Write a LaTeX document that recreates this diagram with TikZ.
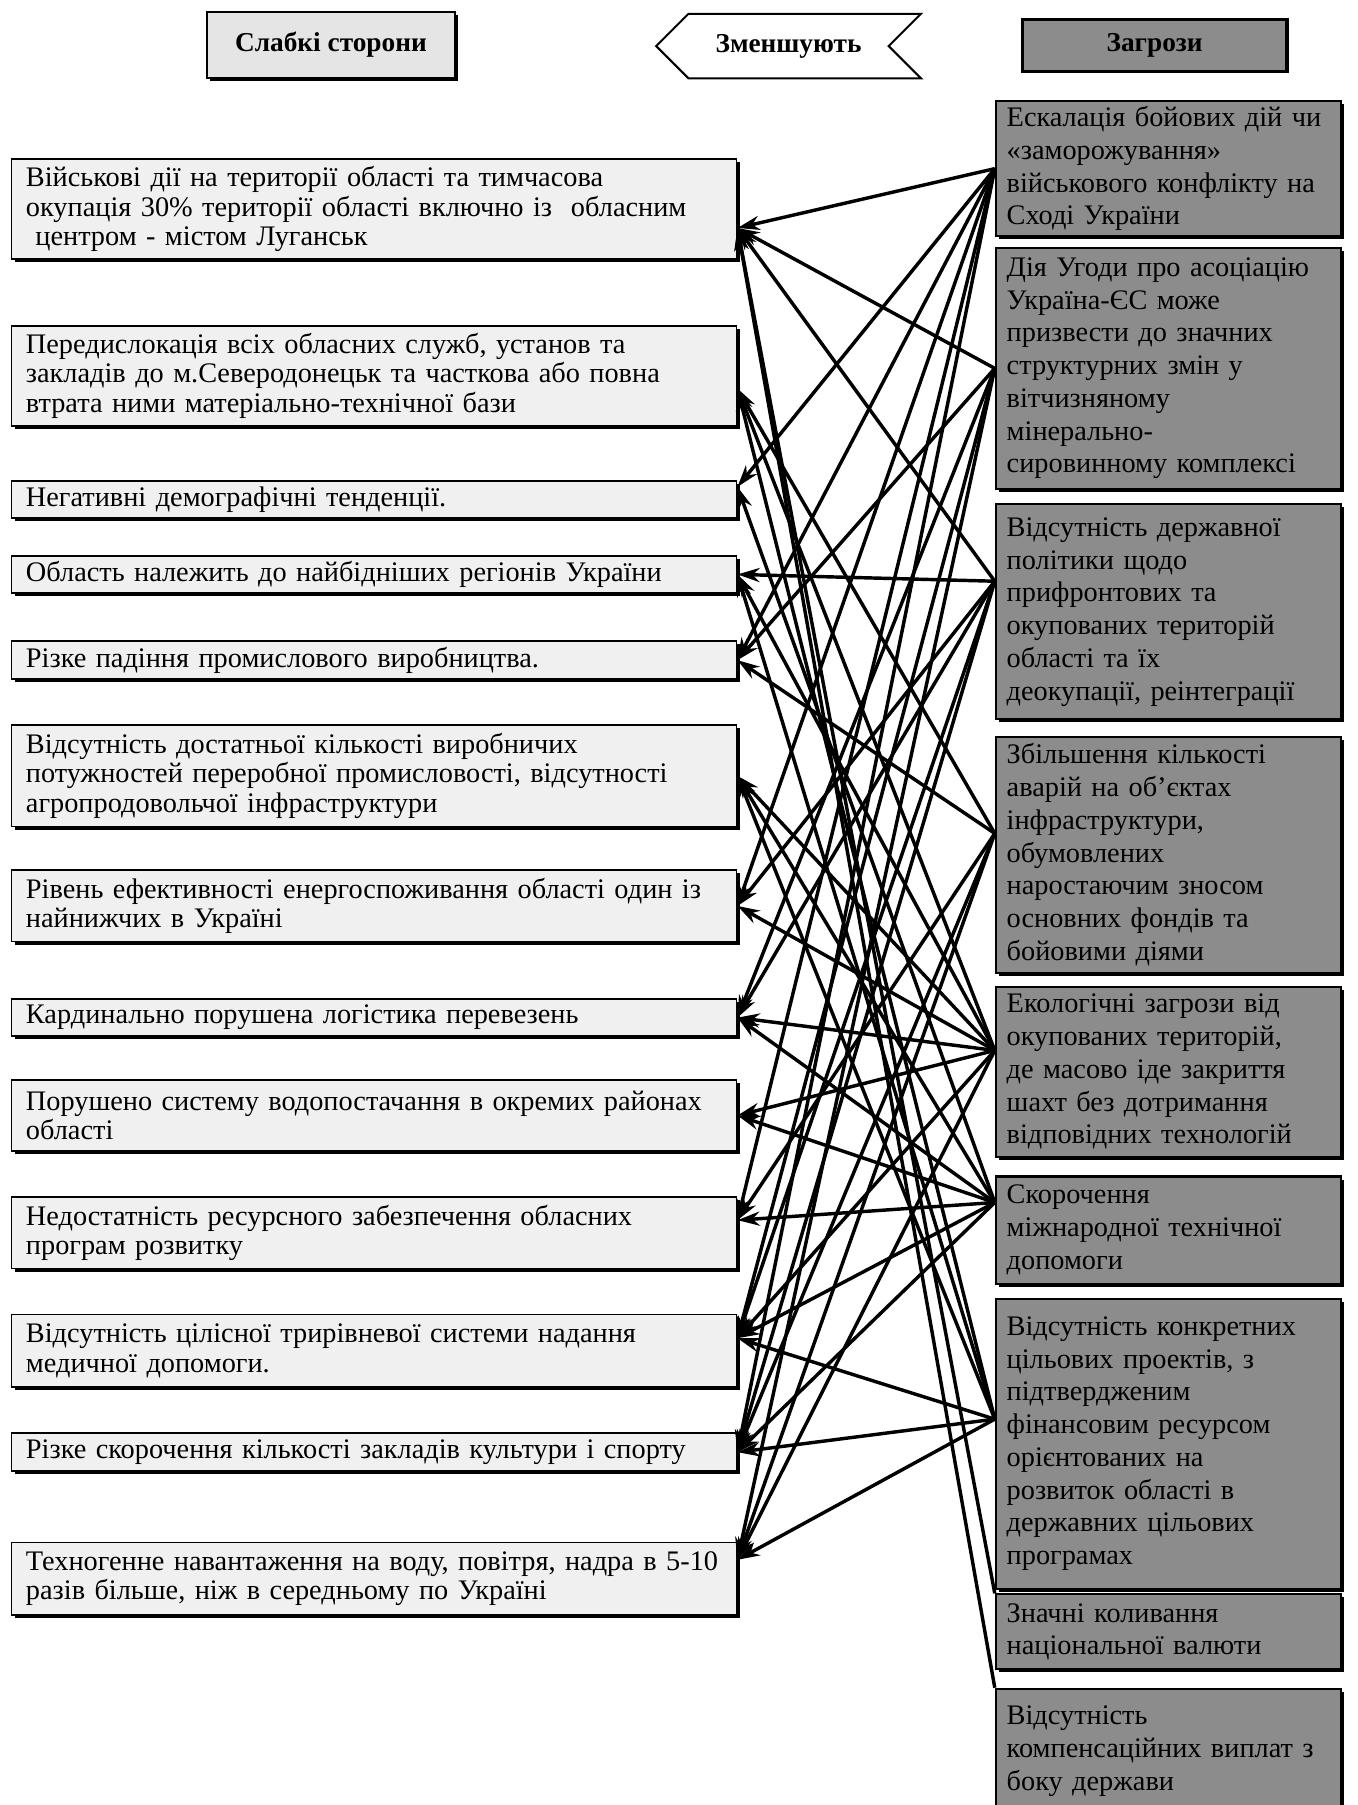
\documentclass[tikz,border=0pt]{standalone}
\usepackage{fontspec}
\setmainfont{Liberation Serif}
\usetikzlibrary{arrows.meta}
\usetikzlibrary{shapes.symbols}
\usetikzlibrary{shadows}

\begin{document}
\begin{tikzpicture}[x=0.02cm, y=-0.02cm,
	arr/.style={line width=1.7pt, -{Stealth[length=11pt, width=7pt]}},
	boxshadow/.style={drop shadow={shadow xshift=1.5pt, shadow yshift=-1.5pt, opacity=1, fill=black}}]
	\useasboundingbox (0,0) rectangle (1179,1568);
	% headers
	\node[draw, fill=black!10, line width=1pt, boxshadow, minimum width=4.3cm, minimum height=1.16cm, font=\bfseries\fontsize{13.5}{15}\selectfont] (weakhead) at (287.5,39) {Слабкі сторони};
	\node[draw, fill=white, line width=1pt, shape=signal, signal to=west, signal from=east, signal pointer angle=90, minimum width=4.6cm, minimum height=1.12cm, font=\bfseries\fontsize{13.5}{15}\selectfont] (reduce) at (685,40) {Зменшують};
	\node[draw, fill=black!45, line width=1.6pt, minimum width=4.6cm, minimum height=0.9cm, font=\bfseries\fontsize{13.5}{15}\selectfont] (threathead) at (1003,39.5) {Загрози};
	% weaknesses
	\begin{scope}[every node/.style={draw, fill=black!6, line width=0.8pt, boxshadow, text width=12.1cm, inner xsep=0.25cm, inner ysep=1pt, align=left, font=\fontsize{14}{14.6}\selectfont}]
		\node[minimum height=1.74cm] (l1) at (325,181.5) {Військові дії на території області та тимчасова\\ окупація 30\% території області включно із~ обласним\\ ~центром - містом Луганськ};
		\node[minimum height=1.74cm] (l2) at (325,326.5) {Передислокація всіх обласних служб, установ та\\ закладів до м.Северодонецьк та часткова або повна\\ втрата ними матеріально-технічної бази};
		\node[minimum height=0.64cm] (l3) at (325,434) {Негативні демографічні тенденції.};
		\node[minimum height=0.64cm] (l4) at (325,499) {Область належить до найбідніших регіонів України};
		\node[minimum height=0.66cm] (l5) at (325,573.5) {Різке падіння промислового виробництва.};
		\node[minimum height=1.76cm] (l6) at (325,674) {Відсутність достатньої кількості виробничих\\ потужностей переробної промисловості, відсутності\\ агропродовольчої інфраструктури};
		\node[minimum height=1.24cm] (l7) at (325,787) {Рівень ефективності енергоспоживання області один із\\ найнижчих в Україні};
		\node[minimum height=0.64cm] (l8) at (325,884) {Кардинально порушена логістика перевезень};
		\node[minimum height=1.24cm] (l9) at (325,969) {Порушено систему водопостачання в окремих районах\\ області};
		\node[minimum height=1.24cm] (l10) at (325,1071) {Недостатність ресурсного забезпечення обласних\\ програм розвитку};
		\node[minimum height=1.26cm] (l11) at (325,1173.5) {Відсутність цілісної трирівневої системи надання\\ медичної допомоги.};
		\node[minimum height=0.66cm] (l12) at (325,1261.5) {Різке скорочення кількості закладів культури і спорту};
		\node[minimum height=1.26cm] (l13) at (325,1371.5) {Техногенне навантаження на воду, повітря, надра в 5-10\\ разів більше, ніж в середньому по Україні};
	\end{scope}
	% threats
	\begin{scope}[every node/.style={draw, fill=black!45, line width=1pt, boxshadow, text width=5.62cm, inner xsep=0.19cm, inner ysep=1pt, align=left, font=\fontsize{14}{16.2}\selectfont}]
		\node[minimum height=2.34cm] (r1) at (1015,146.5) {Ескалація бойових дій чи\\ «заморожування»\\ військового конфлікту на\\ Сході України};
		\node[minimum height=4.2cm] (r2) at (1015,320) {Дія Угоди про асоціацію\\ Україна-ЄС може\\ призвести до значних\\ структурних змін у\\ вітчизняному\\ мінерально-\\ сировинному комплексі};
		\node[minimum height=3.74cm] (r3) at (1015,531.5) {Відсутність державної\\ політики щодо\\ прифронтових та\\ окупованих територій\\ області та їх\\ деокупації, реінтеграції};
		\node[minimum height=4.1cm] (r4) at (1015,742.5) {Збільшення кількості\\ аварій на об'єктах\\ інфраструктури,\\ обумовлених\\ наростаючим зносом\\ основних фондів та\\ бойовими діями};
		\node[minimum height=2.96cm] (r5) at (1015,931) {Екологічні загрози від\\ окупованих територій,\\ де масово іде закриття\\ шахт без дотримання\\ відповідних технологій};
		\node[minimum height=1.86cm] (r6) at (1015,1068.5) {Скорочення\\ міжнародної технічної\\ допомоги};
		\node[minimum height=5.04cm] (r7) at (1015,1254) {Відсутність конкретних\\ цільових проектів, з\\ підтвердженим\\ фінансовим ресурсом\\ орієнтованих на\\ розвиток області в\\ державних цільових\\ програмах};
		\node[minimum height=1.3cm] (r8) at (1015,1417.5) {Значні коливання\\ національної валюти};
		\node[minimum height=2.16cm] (r9) at (1015,1521) {Відсутність\\ компенсаційних виплат з\\ боку держави};
	\end{scope}
	% links
	\foreach \from/\to in {r1.west/l1.-3, r1.west/l3.2, r1.west/l5.east, r1.west/l7.east, r1.west/l10.2, r1.west/l12.east,
		r2.west/l1.-3, r2.west/l5.east, r2.west/l8.east, r2.west/l11.2, r2.west/l13.3,
		r3.170/l1.-3, r3.170/l4.east, r3.170/l7.east, r3.170/l8.east, r3.170/l11.2, r3.170/l12.east,
		r4.173/l2.-2, r4.173/l5.east, r4.173/l10.2, r4.173/l12.east, r4.173/l13.3,
		r5.173/l2.-2, r5.173/l4.east, r5.173/l6.east, r5.173/l7.east, r5.173/l8.east, r5.173/l9.east, r5.173/l11.2, r5.173/l13.3,
		r6.171/l3.2, r6.171/l6.east, r6.171/l8.east, r6.171/l9.east, r6.171/l10.2, r6.171/l11.2, r6.171/l12.east,
		r7.172/l2.-2, r7.172/l4.east, r7.172/l6.east, r7.172/l11.2, r7.172/l12.east, r7.172/l13.3,
		r8.north west/l1.-3, r9.north west/l1.-3}
		\draw[arr] (\from) -- (\to);
\end{tikzpicture}
\end{document}
